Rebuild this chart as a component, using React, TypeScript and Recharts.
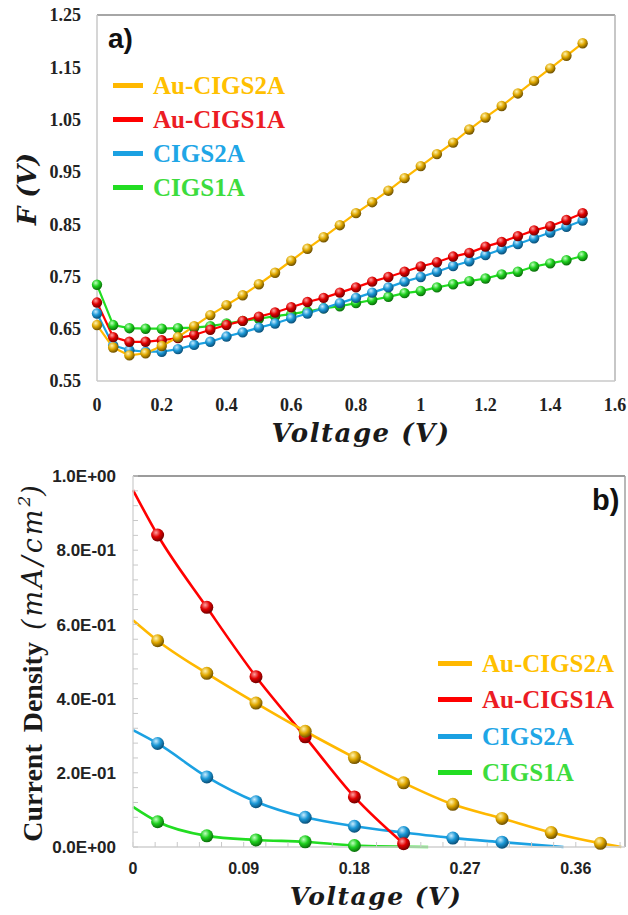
import React from 'react';
import { LineChart, Line, XAxis, YAxis, ReferenceLine, Legend, Label } from 'recharts';

const seriesNames = ['Au-CIGS2A', 'Au-CIGS1A', 'CIGS2A', 'CIGS1A'];

// panel a) : F(V) against voltage
const topVoltage = [0, 0.05, 0.1, 0.15, 0.2, 0.25, 0.3, 0.35, 0.4, 0.45, 0.5, 0.55, 0.6, 0.65, 0.7, 0.75,
  0.8, 0.85, 0.9, 0.95, 1.0, 1.05, 1.1, 1.15, 1.2, 1.25, 1.3, 1.35, 1.4, 1.45, 1.5];
const topAuCIGS2A = [0.657, 0.614, 0.599, 0.603, 0.617, 0.634, 0.655, 0.676, 0.695, 0.714, 0.735, 0.757, 0.780,
  0.803, 0.825, 0.848, 0.871, 0.892, 0.914, 0.938, 0.961, 0.984, 1.006, 1.031, 1.054, 1.076, 1.100, 1.124, 1.148, 1.172, 1.196];
const topAuCIGS1A = [0.700, 0.634, 0.625, 0.625, 0.628, 0.632, 0.638, 0.648, 0.657, 0.665, 0.673, 0.681, 0.691,
  0.701, 0.709, 0.719, 0.729, 0.740, 0.749, 0.759, 0.769, 0.777, 0.788, 0.795, 0.807, 0.816, 0.827, 0.838, 0.846, 0.858, 0.871];
const topCIGS2A = [0.679, 0.618, 0.609, 0.606, 0.606, 0.611, 0.619, 0.625, 0.635, 0.643, 0.652, 0.660, 0.670,
  0.679, 0.689, 0.699, 0.709, 0.719, 0.729, 0.740, 0.749, 0.759, 0.770, 0.779, 0.791, 0.802, 0.812, 0.823, 0.834, 0.845, 0.857];
const topCIGS1A = [0.734, 0.657, 0.651, 0.650, 0.650, 0.651, 0.652, 0.655, 0.660, 0.665, 0.669, 0.674, 0.678,
  0.683, 0.689, 0.693, 0.699, 0.705, 0.711, 0.718, 0.722, 0.729, 0.735, 0.741, 0.746, 0.754, 0.759, 0.769, 0.775, 0.781, 0.789];
const topXTicks = [0, 0.2, 0.4, 0.6, 0.8, 1, 1.2, 1.4, 1.6];
const topYTicks = [0.55, 0.65, 0.75, 0.85, 0.95, 1.05, 1.15, 1.25];

// panel b) : current density against voltage
const bottomMarkerVoltage = [0.02, 0.06, 0.10, 0.14, 0.18, 0.22, 0.26, 0.30, 0.34, 0.38];
const bottomAuCIGS2A = [0.556, 0.468, 0.388, 0.312, 0.241, 0.173, 0.115, 0.077, 0.039, 0.010];
const bottomAuCIGS1A = [0.841, 0.646, 0.459, 0.297, 0.135, 0.009];
const bottomCIGS2A = [0.279, 0.189, 0.122, 0.080, 0.056, 0.039, 0.024, 0.013];
const bottomCIGS1A = [0.068, 0.030, 0.019, 0.014, 0.004];
const bottomAtZeroVoltage = [0.611, 0.962, 0.315, 0.108];
const bottomZeroCurrentVoltage: (number | null)[] = [0.397, null, 0.35, 0.24];
const bottomXMajor = [0, 0.09, 0.18, 0.27, 0.36];
const bottomYMajor = [0, 0.2, 0.4, 0.6, 0.8, 1.0];

const topSeries = [topAuCIGS2A, topAuCIGS1A, topCIGS2A, topCIGS1A];
const bottomSeries = [bottomAuCIGS2A, bottomAuCIGS1A, bottomCIGS2A, bottomCIGS1A];

const lineColors = ['#ffb800', '#ff0000', '#1ba1e2', '#22dd22'];
const textColors = ['#ffc000', '#ec1c24', '#1fa6e6', '#3ddc3d'];
const ballColors = [
  ['#fff3b0', '#e0a800', '#6e5000'],
  ['#ffa0a0', '#e00000', '#700000'],
  ['#c8ecff', '#1b98d6', '#0a4f78'],
  ['#c0ffc0', '#1ed01e', '#0a6e0a'],
];

const serif = "Liberation Serif";
const sans = "Liberation Sans";
const mathFont = "DejaVu Serif";

const topRows = topVoltage.map((v, i) => {
  const row: Record<string, number> = { v };
  seriesNames.forEach((n, s) => { row[n] = topSeries[s][i]; });
  return row;
});

const bottomRows = seriesNames.map((_, s) => {
  const rows = [{ v: 0, j: bottomAtZeroVoltage[s], marker: false }];
  bottomSeries[s].forEach((j, i) => rows.push({ v: bottomMarkerVoltage[i], j, marker: true }));
  const end = bottomZeroCurrentVoltage[s];
  if (end !== null) rows.push({ v: end, j: 0, marker: false });
  return rows;
});

// minor ticks: five steps between each labelled tick
const bottomXTicks: number[] = [];
for (let i = 0; i < bottomXMajor.length - 1; i++) {
  for (let k = 0; k < 5; k++) bottomXTicks.push(Number((bottomXMajor[i] + (k * 0.09) / 5).toFixed(3)));
}
bottomXTicks.push(0.36, 0.378, 0.396);
const bottomYTicks: number[] = [];
for (let i = 0; i < bottomYMajor.length - 1; i++) {
  for (let k = 0; k < 5; k++) bottomYTicks.push(Number((bottomYMajor[i] + (k * 0.2) / 5).toFixed(3)));
}
bottomYTicks.push(1.0);

const sciLabel = (v: number) => {
  const [m, e] = v.toExponential(1).split('e');
  const n = Number(e);
  return `${m}E${n < 0 ? '-' : '+'}${String(Math.abs(n)).padStart(2, '0')}`;
};

const gradients = (
  <defs>
    {ballColors.map((c, i) => (
      <radialGradient key={i} id={`ball-${i}`} cx="38%" cy="32%" r="68%">
        <stop offset="0%" stopColor={c[0]} />
        <stop offset="50%" stopColor={c[1]} />
        <stop offset="100%" stopColor={c[2]} />
      </radialGradient>
    ))}
  </defs>
);

const ball = (s: number, r: number, onlyMarkers: boolean) => (p: any) => {
  if (onlyMarkers && !p.payload?.marker) return <g key={`d-${s}-${p.index}`} />;
  return <circle key={`d-${s}-${p.index}`} cx={p.cx} cy={p.cy} r={r} fill={`url(#ball-${s})`} />;
};

const legendContent = (swatch: number, rowH: number) => (props: any) => {
  const items = [...(props.payload || [])].sort(
    (a: any, b: any) => seriesNames.indexOf(a.value) - seriesNames.indexOf(b.value)
  );
  return (
    <div>
      {items.map((it: any) => {
        const s = seriesNames.indexOf(it.value);
        return (
          <div key={it.value} style={{ display: 'flex', alignItems: 'center', height: rowH }}>
            <span style={{ width: swatch, height: 5, background: lineColors[s], marginRight: 10, display: 'inline-block' }} />
            <span style={{ color: textColors[s], fontFamily: serif, fontWeight: 'bold', fontSize: 25, lineHeight: 1 }}>
              {it.value}
            </span>
          </div>
        );
      })}
    </div>
  );
};

const voltageLabel = (dx: number, dyBase: number, size: number) => (props: any) => {
  const vb = props.viewBox;
  return (
    <text x={vb.x + vb.width / 2 + dx} y={vb.y + dyBase} textAnchor="middle" fill="#1a1a1a"
      fontFamily={mathFont} fontWeight="bold" fontStyle="italic" fontSize={size} letterSpacing={1.5}>
      Voltage (V)
    </text>
  );
};

const topFLabel = (props: any) => {
  const vb = props.viewBox;
  const x = 36;
  const y = vb.y + vb.height / 2 - 9;
  return (
    <text x={x} y={y} transform={`rotate(-90 ${x} ${y})`} textAnchor="middle" fill="#1a1a1a"
      fontFamily={mathFont} fontWeight="bold" fontStyle="italic" fontSize={26}>
      F (V)
    </text>
  );
};

const bottomJLabel = (props: any) => {
  const vb = props.viewBox;
  const x = 42;
  const y = vb.y + vb.height / 2 + 2;
  return (
    <text x={x} y={y} transform={`rotate(-90 ${x} ${y})`} textAnchor="middle" fill="#1a1a1a">
      <tspan fontFamily={serif} fontWeight="bold" fontSize={28} wordSpacing={5}>Current Density </tspan>
      <tspan fontFamily={mathFont} fontStyle="italic" fontSize={27} letterSpacing={3}>(mA/cm</tspan>
      <tspan fontFamily={mathFont} fontStyle="italic" fontSize={17} dy={-12}>2</tspan>
      <tspan fontFamily={mathFont} fontStyle="italic" fontSize={27} dy={12}>)</tspan>
    </text>
  );
};

const bottomXTick = (p: any) => {
  if (p.index % 5 !== 0) return <g key={`xt-${p.index}`} />;
  return (
    <text key={`xt-${p.index}`} x={p.x} y={p.y} dy="0.71em" textAnchor="middle" fill="#222"
      fontFamily={sans} fontWeight="bold" fontSize={16}>
      {String(Number(p.payload.value.toFixed(2)))}
    </text>
  );
};

const bottomYTick = (p: any) => {
  if (p.index % 5 !== 0) return <g key={`yt-${p.index}`} />;
  return (
    <text key={`yt-${p.index}`} x={p.x} y={p.y} dy="0.36em" textAnchor="end" fill="#222"
      fontFamily={sans} fontWeight="bold" fontSize={17}>
      {sciLabel(p.payload.value)}
    </text>
  );
};

const drawOrder = [3, 2, 1, 0];

export default function App() {
  return (
    <div style={{ position: 'absolute', left: 0, top: 0, width: 628, height: 915, background: '#fff' }}>
      <LineChart width={628} height={455} data={topRows} margin={{ top: 15, right: 13, bottom: 0, left: 0 }}>
        {gradients}
        <XAxis dataKey="v" type="number" domain={[0, 1.6]} ticks={topXTicks} interval={0} height={74}
          tickSize={0} tickMargin={17} tickLine={false} axisLine={{ stroke: '#c8c8c8', strokeWidth: 1.5 }}
          tick={{ fill: '#222', fontSize: 18, fontFamily: serif, fontWeight: 'bold' }}>
          <Label content={voltageLabel(5, 61, 26)} />
        </XAxis>
        <YAxis type="number" domain={[0.55, 1.25]} ticks={topYTicks} interval={0} width={97}
          tickSize={0} tickMargin={16} tickLine={false} axisLine={{ stroke: '#c8c8c8', strokeWidth: 1.5 }}
          tickFormatter={(v: number) => v.toFixed(2)}
          tick={{ fill: '#222', fontSize: 18, fontFamily: serif, fontWeight: 'bold' }}>
          <Label content={topFLabel} />
        </YAxis>
        <ReferenceLine y={1.25} stroke="#a6a6a6" strokeWidth={2} />
        <ReferenceLine x={1.6} stroke="#b4b4b4" strokeWidth={1.5} />
        {drawOrder.map((s) => (
          <Line key={seriesNames[s]} dataKey={seriesNames[s]} name={seriesNames[s]} type="linear"
            stroke={lineColors[s]} strokeWidth={2.2} dot={ball(s, 5.2, false)} activeDot={false}
            isAnimationActive={false} />
        ))}
        <Legend layout="vertical" align="center" verticalAlign="middle" content={legendContent(30, 34)}
          wrapperStyle={{ left: 113, top: 68, width: 'auto' }} />
        <text x={108} y={48} fill="#111" fontFamily={sans} fontWeight="bold" fontSize={28}>a)</text>
      </LineChart>

      <LineChart width={628} height={460} margin={{ top: 21, right: 3, bottom: 0, left: 0 }}>
        {gradients}
        <XAxis dataKey="v" type="number" domain={[0, 0.4]} ticks={bottomXTicks} interval={0} height={68}
          tickSize={-5} tickMargin={21} tick={bottomXTick} tickLine={{ stroke: '#c8c8c8' }}
          axisLine={{ stroke: '#cfcfcf', strokeWidth: 1.5 }}>
          <Label content={voltageLabel(-3, 58, 25)} />
        </XAxis>
        <YAxis type="number" domain={[0, 1]} ticks={bottomYTicks} interval={0} width={133}
          tickSize={-5} tickMargin={22} tick={bottomYTick} tickLine={{ stroke: '#c8c8c8' }}
          axisLine={{ stroke: '#d6d6d6', strokeWidth: 1.5 }}>
          <Label content={bottomJLabel} />
        </YAxis>
        <ReferenceLine y={1} stroke="#7a7a7a" strokeWidth={1.5} />
        <ReferenceLine x={0.4} stroke="#a0a0a0" strokeWidth={1.5} />
        {drawOrder.map((s) => (
          <Line key={seriesNames[s]} data={bottomRows[s]} dataKey="j" name={seriesNames[s]} type="monotone"
            stroke={lineColors[s]} strokeWidth={2.6} dot={ball(s, 6.5, true)} activeDot={false}
            isAnimationActive={false} />
        ))}
        <Legend layout="vertical" align="center" verticalAlign="middle" content={legendContent(34, 36.5)}
          wrapperStyle={{ left: 438, top: 190, width: 'auto' }} />
        <text x={592} y={55} fill="#111" fontFamily={sans} fontWeight="bold" fontSize={29}>b)</text>
      </LineChart>
    </div>
  );
}
